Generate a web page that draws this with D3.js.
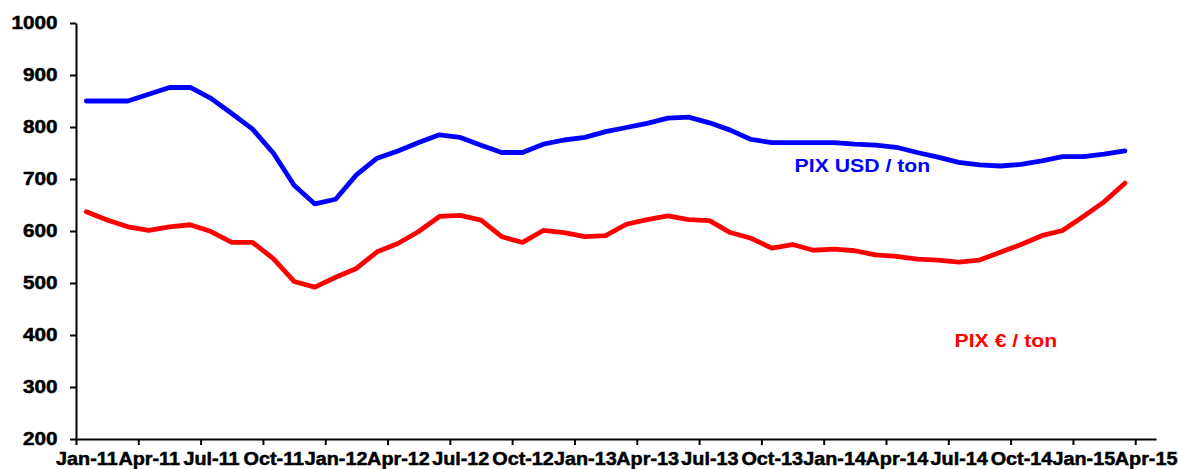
<!DOCTYPE html>
<html>
<head>
<meta charset="utf-8">
<script src="https://cdn.jsdelivr.net/npm/d3@7"></script>
<style>
  body { margin: 0; background: #fff; }
  .axis text { font-family: "Liberation Sans", Arial, sans-serif; font-weight: bold; font-size: 18px; fill: #000; stroke: #000; stroke-width: 0.5px; }
  .axis path, .axis line { stroke: #000; stroke-width: 2px; }
  .series-label { font-family: "Liberation Sans", Arial, sans-serif; font-weight: bold; font-size: 18px; }
</style>
</head>
<body>
<div id="chart"></div>
<script>
// monthly values, Jan-11 .. Mar-15
let usdPerTon = [
  850, 850, 850, 863, 876, 876, 855, 826, 796, 750, 688, 652,
  661, 708, 740, 754, 770, 785, 780, 765, 751, 751, 767, 775,
  780, 791, 799, 807, 817, 819, 808, 794, 776, 770, 770, 770,
  770, 767, 765, 761, 751, 742, 732, 727, 725, 728, 735, 743,
  743, 748, 754
];
let eurPerTon = [
  637, 621, 608, 601, 608, 612, 599, 578, 578, 547, 503, 492,
  511, 528, 560, 576, 599, 628, 630, 621, 589, 578, 601, 597,
  589, 591, 613, 622, 629, 622, 620, 597, 586, 567, 574, 563,
  565, 562, 554, 551, 546, 544, 540, 544, 559, 574, 591, 601,
  628, 656, 692
];
let quarterLabels = [
  "Jan-11", "Apr-11", "Jul-11", "Oct-11",
  "Jan-12", "Apr-12", "Jul-12", "Oct-12",
  "Jan-13", "Apr-13", "Jul-13", "Oct-13",
  "Jan-14", "Apr-14", "Jul-14", "Oct-14",
  "Jan-15", "Apr-15"
];
let yTicks = [200, 300, 400, 500, 600, 700, 800, 900, 1000];
let seriesNames = ["PIX USD / ton", "PIX \u20ac / ton"];
// label anchors in data units: month position, price
let labelMonth = [34.6, 42.3];
let labelValue = [713, 377];

let totalWidth = 1178, totalHeight = 469;
let margins = {left: 76, top: 23, right: 22, bottom: 30};
let width = totalWidth - margins.left - margins.right;
let height = totalHeight - margins.top - margins.bottom;
let monthCount = quarterLabels.length * 3 - 2; // axis runs through Apr-15

let svg = d3.select("#chart")
  .append("svg")
  .attr("width", totalWidth)
  .attr("height", totalHeight)
  .append("g")
  .attr("transform", "translate(" + margins.left + "," + margins.top + ")");

let x = d3.scaleLinear().domain([0, monthCount]).range([0, width]);
let y = d3.scaleLinear().domain([200, 1000]).range([height, 0]);
let monthW = x(1) - x(0);

let line = d3.line()
  .x(function(d, i) { return x(i + 0.5); })
  .y(function(d) { return y(d); });

svg.append("path")
  .attr("d", line(usdPerTon))
  .attr("fill", "none")
  .attr("stroke", "#0000ff")
  .attr("stroke-width", 4.8)
  .attr("stroke-linejoin", "round")
  .attr("stroke-linecap", "round");

svg.append("path")
  .attr("d", line(eurPerTon))
  .attr("fill", "none")
  .attr("stroke", "#ff0000")
  .attr("stroke-width", 4.8)
  .attr("stroke-linejoin", "round")
  .attr("stroke-linecap", "round");

// y axis
let yAxis = svg.append("g")
  .attr("class", "axis")
  .call(d3.axisLeft(y).tickValues(yTicks).tickFormat(d3.format("d"))
    .tickSize(6).tickPadding(10).tickSizeOuter(0));
yAxis.selectAll("text").attr("transform", "scale(1.15,1)");

// x axis: ticks on quarter boundaries, labels centred on the month
let xAxis = svg.append("g")
  .attr("class", "axis")
  .attr("transform", "translate(0," + height + ")")
  .call(d3.axisBottom(x)
    .tickValues(quarterLabels.map(function(d, i) { return i * 3; }))
    .tickFormat(function(d) { return quarterLabels[d / 3]; })
    .tickSize(6).tickPadding(7).tickSizeOuter(0));
xAxis.selectAll("text")
  .attr("transform", "translate(" + (monthW / 2) + ",0) scale(1.1,1)");

// series labels
let colors = ["#0000ff", "#ff0000"];
seriesNames.forEach(function(name, i) {
  svg.append("g")
    .attr("transform", "translate(" + x(labelMonth[i]) + "," + y(labelValue[i]) + ")")
    .append("text")
    .attr("class", "series-label")
    .attr("transform", "scale(1.18,1)")
    .attr("fill", colors[i])
    .text(name);
});
</script>
</body>
</html>
